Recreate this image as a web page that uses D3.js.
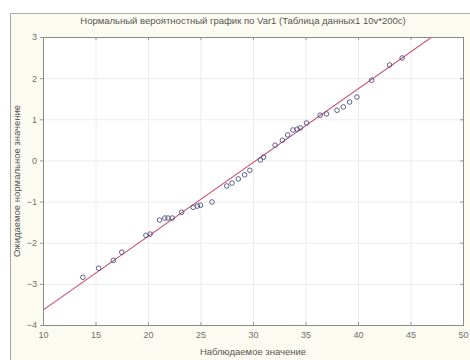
<!DOCTYPE html>
<html><head><meta charset="utf-8">
<script src="https://cdn.jsdelivr.net/npm/d3@7"></script>
<style>body{margin:0;background:#fff}svg{display:block}text{font-family:"Liberation Sans",Arial,sans-serif}</style>
</head><body>
<svg id="c" width="470" height="360"></svg>
<script>
const title = "Нормальный вероятностный график по Var1 (Таблица данных1 10v*200c)";
const xLabel = "Наблюдаемое значение";
const yLabel = "Ожидаемое нормальное значение";
const xTicks = [10, 15, 20, 25, 30, 35, 40, 45, 50];
const yTicks = [3, 2, 1, 0, -1, -2, -3, -4];
const observed = [13.8,15.3,16.7,17.5,19.8,20.2,21.1,21.6,21.9,22.3,23.2,24.3,24.7,25.0,26.1,27.5,28.0,28.6,29.2,29.7,30.7,31.0,32.1,32.8,33.3,33.8,34.2,34.5,35.1,36.4,37.0,38.0,38.6,39.2,39.9,41.3,43.0,44.2];
const expected = [-2.84,-2.62,-2.43,-2.23,-1.82,-1.79,-1.45,-1.40,-1.40,-1.40,-1.26,-1.14,-1.11,-1.09,-1.01,-0.62,-0.55,-0.45,-0.35,-0.24,0.01,0.08,0.37,0.49,0.62,0.74,0.76,0.79,0.91,1.10,1.13,1.22,1.30,1.42,1.54,1.95,2.32,2.49];
const fitMean = 30.3, fitSd = 5.58;

const svg = d3.select("#c");
const L = 43, R = 463, T = 37, B = 325;
const x = d3.scaleLinear().domain([10, 50]).range([L, R]);
const y = d3.scaleLinear().domain([-4, 3]).range([B, T]);

// outer panel
svg.append("rect").attr("x", 10).attr("y", 13).attr("width", 470).attr("height", 360).attr("fill", "#fcfbf1");
svg.append("path").attr("d", "M10.5,360V13.5H470").attr("fill", "none").attr("stroke", "#a8a8a8");
svg.append("rect").attr("x", L).attr("y", T).attr("width", R - L).attr("height", B - T).attr("fill", "#fff");

// grid
const g = svg.append("g");
g.selectAll(".gx").data(xTicks).join("line").attr("x1", d => x(d) + 0.5).attr("x2", d => x(d) + 0.5)
  .attr("y1", T).attr("y2", B).attr("stroke", "#ececec");
g.selectAll(".gy").data(yTicks).join("line").attr("y1", d => y(d) + 0.5).attr("y2", d => y(d) + 0.5)
  .attr("x1", L).attr("x2", R).attr("stroke", "#ececec");

// axes
const tickFont = g => g.selectAll("text").attr("font-size", 9).attr("fill", "#707070");
svg.append("g").attr("transform", `translate(0,${B})`)
  .call(d3.axisBottom(x).tickValues(xTicks).tickSize(-3).tickPadding(7))
  .call(a => a.select(".domain").remove()).call(a => a.selectAll("line").attr("stroke", "#999")).call(tickFont);
svg.append("g").attr("transform", `translate(0,${T})`)
  .call(d3.axisTop(x).tickValues(xTicks).tickSize(-3).tickFormat(""))
  .call(a => a.select(".domain").remove()).call(a => a.selectAll("line").attr("stroke", "#999"));
svg.append("g").attr("transform", `translate(${L},0)`)
  .call(d3.axisLeft(y).tickValues(yTicks).tickSize(3).tickPadding(3).tickFormat(d3.format("d")))
  .call(a => a.select(".domain").remove()).call(a => a.selectAll("line").attr("stroke", "#999")).call(tickFont);
svg.append("g").attr("transform", `translate(${R},0)`)
  .call(d3.axisRight(y).tickValues(yTicks).tickSize(-3).tickFormat(""))
  .call(a => a.select(".domain").remove()).call(a => a.selectAll("line").attr("stroke", "#999"));

// fitted line
svg.append("clipPath").attr("id", "pc").append("rect").attr("x", L).attr("y", T).attr("width", R - L).attr("height", B - T);
const lineX = [10, 50];
svg.append("path").attr("clip-path", "url(#pc)")
  .datum(lineX.map(v => [v, (v - fitMean) / fitSd]))
  .attr("d", d3.line().x(d => x(d[0])).y(d => y(d[1])))
  .attr("fill", "none").attr("stroke", "#c8506e").attr("stroke-width", 1.1);

// points
svg.append("g").selectAll("circle").data(observed.map((v, i) => [v, expected[i]])).join("circle")
  .attr("cx", d => x(d[0])).attr("cy", d => y(d[1])).attr("r", 2.3)
  .attr("fill", "none").attr("stroke", "#4a5080").attr("stroke-width", 0.9);

// plot border
svg.append("rect").attr("x", L + 0.5).attr("y", T + 0.5).attr("width", R - L).attr("height", B - T)
  .attr("fill", "none").attr("stroke", "#8a8a8a");

// texts
svg.append("text").attr("x", 243).attr("y", 24).attr("text-anchor", "middle").attr("font-size", 9.5).attr("fill", "#555").text(title);
svg.append("text").attr("x", 253).attr("y", 355).attr("text-anchor", "middle").attr("font-size", 9.5).attr("fill", "#555").text(xLabel);
svg.append("text").attr("transform", "translate(20,181) rotate(-90)").attr("text-anchor", "middle").attr("font-size", 9.5).attr("fill", "#555").text(yLabel);
</script>
</body></html>
